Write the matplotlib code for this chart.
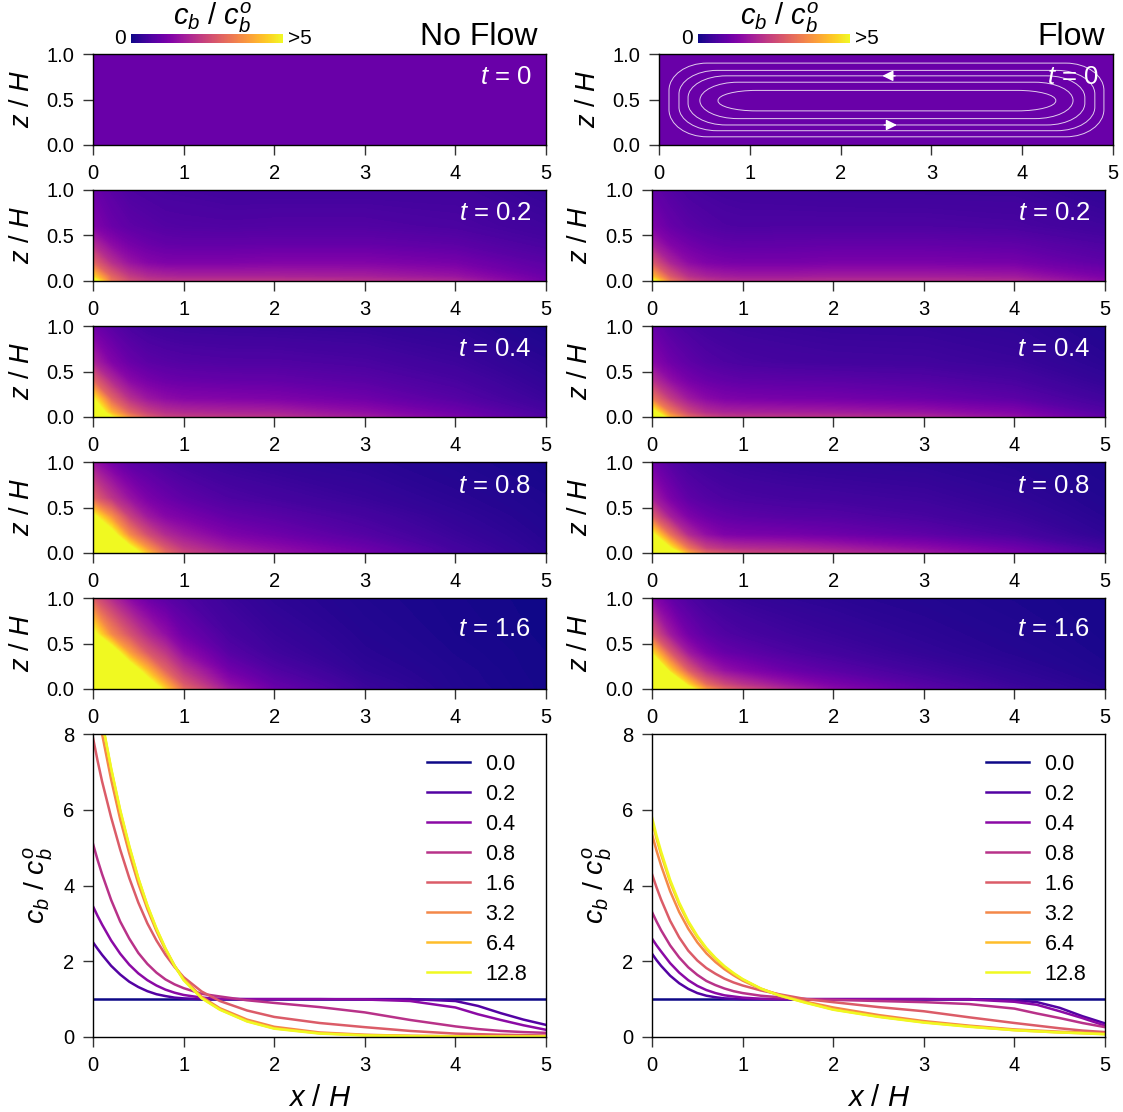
import numpy as np
import matplotlib
matplotlib.use("Agg")
import matplotlib.pyplot as plt
from matplotlib.path import Path
from matplotlib.patches import PathPatch

plt.rcParams['font.family'] = ['Liberation Sans', 'DejaVu Sans']
plt.rcParams['mathtext.fontset'] = 'custom'
plt.rcParams['mathtext.it'] = 'Liberation Sans:italic'
plt.rcParams['mathtext.rm'] = 'Liberation Sans'

W, H = 1123, 1112

# heatmap grid
x_grid = [0, 0.2, 0.4, 0.6, 0.8, 1, 1.5, 2, 3, 4, 5]
z_grid = [0, 0.05, 0.2, 0.4, 0.6, 1]
panel_times = ['0', '0.2', '0.4', '0.8', '1.6']

c_start = [[1] * 11] * 6

nf_02 = [[5.6, 3.3, 2.6, 2.3, 2.2, 2.2, 2.2, 2.2, 2.1, 1.9, 1.1],
         [4.6, 3.0, 2.3, 2.0, 1.9, 1.85, 1.85, 1.85, 1.8, 1.6, 1.0],
         [3.0, 2.1, 1.6, 1.35, 1.25, 1.25, 1.25, 1.3, 1.3, 1.15, 0.8],
         [2.0, 1.45, 1.15, 1.0, 0.92, 0.9, 0.9, 0.92, 0.92, 0.82, 0.6],
         [1.3, 1.0, 0.85, 0.78, 0.72, 0.7, 0.68, 0.7, 0.7, 0.62, 0.48],
         [1.0, 0.8, 0.65, 0.6, 0.56, 0.55, 0.5, 0.5, 0.5, 0.5, 0.35]]
nf_04 = [[7.5, 5.0, 3.6, 2.8, 2.4, 2.3, 2.2, 2.1, 1.7, 1.2, 0.65],
         [6.3, 4.2, 3.0, 2.4, 2.1, 2.0, 1.9, 1.85, 1.5, 1.05, 0.58],
         [5.0, 3.0, 2.1, 1.65, 1.45, 1.35, 1.3, 1.25, 1.05, 0.75, 0.42],
         [3.0, 2.0, 1.4, 1.15, 1.02, 0.97, 0.92, 0.9, 0.78, 0.58, 0.32],
         [1.9, 1.3, 0.98, 0.82, 0.76, 0.72, 0.68, 0.68, 0.6, 0.45, 0.24],
         [1.05, 0.78, 0.6, 0.5, 0.45, 0.42, 0.4, 0.38, 0.35, 0.28, 0.1]]
nf_08 = [[10, 8.0, 5.8, 4.3, 3.1, 2.5, 1.9, 1.6, 1.1, 0.55, 0.25],
         [9.0, 7.0, 5.3, 3.8, 2.8, 2.25, 1.7, 1.45, 1.0, 0.52, 0.24],
         [7.5, 5.5, 3.6, 2.6, 2.0, 1.7, 1.25, 1.05, 0.72, 0.42, 0.2],
         [5.2, 3.7, 2.4, 1.7, 1.35, 1.2, 0.9, 0.78, 0.55, 0.33, 0.16],
         [3.0, 2.2, 1.6, 1.2, 1.0, 0.85, 0.65, 0.55, 0.4, 0.25, 0.13],
         [1.6, 1.1, 0.8, 0.7, 0.58, 0.5, 0.38, 0.32, 0.25, 0.15, 0.08]]
nf_16 = [[14, 11, 9.0, 6.2, 4.5, 3.1, 1.7, 1.0, 0.42, 0.17, 0.06],
         [13, 10, 8.2, 5.6, 4.1, 2.8, 1.5, 0.9, 0.4, 0.16, 0.06],
         [11, 8.6, 5.9, 4.3, 3.0, 2.2, 1.1, 0.68, 0.3, 0.15, 0.05],
         [8.0, 5.8, 3.9, 2.8, 2.2, 1.5, 0.75, 0.48, 0.24, 0.12, 0.05],
         [5.3, 3.6, 2.7, 2.0, 1.5, 1.05, 0.58, 0.4, 0.2, 0.1, 0.04],
         [2.8, 2.0, 1.4, 1.0, 0.8, 0.65, 0.42, 0.28, 0.15, 0.08, 0.03]]

fl_02 = [[5.4, 3.3, 2.5, 2.2, 2.05, 2.0, 2.0, 2.05, 2.05, 2.0, 1.4],
         [4.3, 2.8, 2.1, 1.85, 1.75, 1.7, 1.7, 1.75, 1.75, 1.7, 1.2],
         [2.8, 1.9, 1.45, 1.25, 1.18, 1.15, 1.15, 1.2, 1.2, 1.15, 0.85],
         [1.8, 1.3, 1.08, 0.95, 0.88, 0.86, 0.88, 0.9, 0.9, 0.85, 0.65],
         [1.25, 0.95, 0.8, 0.72, 0.66, 0.64, 0.65, 0.65, 0.65, 0.6, 0.48],
         [0.9, 0.72, 0.6, 0.55, 0.52, 0.5, 0.48, 0.46, 0.45, 0.45, 0.3]]
fl_04 = [[6.8, 4.1, 3.0, 2.5, 2.25, 2.2, 2.15, 2.1, 1.9, 1.5, 0.85],
         [5.5, 3.4, 2.5, 2.05, 1.88, 1.85, 1.8, 1.75, 1.6, 1.3, 0.72],
         [3.3, 2.3, 1.7, 1.4, 1.25, 1.2, 1.15, 1.12, 1.0, 0.82, 0.5],
         [2.1, 1.5, 1.15, 0.98, 0.9, 0.85, 0.82, 0.8, 0.72, 0.58, 0.34],
         [1.4, 1.05, 0.85, 0.72, 0.65, 0.6, 0.55, 0.52, 0.5, 0.42, 0.25],
         [0.95, 0.7, 0.58, 0.5, 0.46, 0.43, 0.4, 0.37, 0.36, 0.3, 0.15]]
fl_08 = [[9.0, 6.0, 4.0, 3.0, 2.7, 2.5, 2.3, 2.1, 1.7, 1.2, 0.6],
         [7.5, 5.0, 3.3, 2.4, 2.15, 2.05, 1.95, 1.8, 1.45, 1.05, 0.52],
         [5.2, 3.2, 2.0, 1.5, 1.25, 1.2, 1.15, 1.05, 0.85, 0.6, 0.3],
         [2.9, 1.8, 1.25, 1.0, 0.88, 0.82, 0.75, 0.72, 0.58, 0.42, 0.22],
         [1.8, 1.2, 0.85, 0.72, 0.64, 0.6, 0.55, 0.52, 0.45, 0.32, 0.17],
         [1.05, 0.72, 0.55, 0.47, 0.42, 0.38, 0.33, 0.3, 0.27, 0.2, 0.12]]
fl_16 = [[12, 8.5, 5.4, 3.8, 3.0, 2.6, 1.9, 1.4, 0.8, 0.45, 0.22],
         [10, 7.0, 4.6, 3.1, 2.5, 2.15, 1.6, 1.2, 0.72, 0.4, 0.2],
         [7.5, 4.6, 2.9, 2.0, 1.55, 1.35, 1.0, 0.8, 0.5, 0.3, 0.14],
         [4.7, 2.8, 1.7, 1.2, 0.95, 0.85, 0.65, 0.52, 0.34, 0.21, 0.11],
         [2.8, 1.7, 1.1, 0.82, 0.68, 0.6, 0.48, 0.4, 0.27, 0.17, 0.09],
         [1.4, 0.9, 0.65, 0.5, 0.42, 0.37, 0.3, 0.25, 0.18, 0.12, 0.07]]

# streamlines of the flow panel, one entry per loop
loop_left = [0.11, 0.22, 0.32, 0.45, 0.65]
loop_right = [4.90, 4.80, 4.69, 4.56, 4.37]
loop_top = [0.90, 0.82, 0.76, 0.69, 0.60]
loop_bottom = [0.09, 0.157, 0.22, 0.29, 0.375]
loop_round_x = [0.42, 0.42, 0.42, 0.42, 0.42]
loop_round_z = [0.30, 0.26, 0.24, 0.20, 0.11]

# bottom profiles
x_line = [0, 0.05, 0.1, 0.2, 0.3, 0.4, 0.5, 0.6, 0.7, 0.8, 0.9, 1, 1.2, 1.4, 1.7, 2,
          2.5, 3, 3.5, 4, 4.25, 4.5, 4.75, 5]
line_labels = ['0.0', '0.2', '0.4', '0.8', '1.6', '3.2', '6.4', '12.8']

nf_lines = [
    [1] * 24,
    [2.5, 2.33, 2.17, 1.88, 1.65, 1.46, 1.32, 1.21, 1.13, 1.08, 1.04, 1.02, 1.0, 1.0, 1.0, 1.0,
     1.0, 1.0, 1.0, 0.95, 0.82, 0.63, 0.46, 0.32],
    [3.45, 3.2, 2.97, 2.55, 2.2, 1.91, 1.68, 1.5, 1.36, 1.25, 1.17, 1.11, 1.04, 1.01, 1.0, 1.0,
     1.0, 0.99, 0.95, 0.78, 0.6, 0.45, 0.31, 0.19],
    [5.1, 4.68, 4.3, 3.62, 3.05, 2.6, 2.22, 1.93, 1.7, 1.52, 1.39, 1.29, 1.14, 1.07, 0.97, 0.9,
     0.79, 0.65, 0.45, 0.28, 0.21, 0.16, 0.13, 0.11],
    [7.9, 7.3, 6.75, 5.8, 4.95, 4.2, 3.55, 3.0, 2.55, 2.17, 1.85, 1.58, 1.2, 0.95, 0.7, 0.53,
     0.37, 0.26, 0.16, 0.09, 0.075, 0.06, 0.05, 0.04],
    [9.3, 8.65, 8.0, 6.8, 5.75, 4.85, 4.05, 3.38, 2.8, 2.3, 1.88, 1.54, 1.06, 0.76, 0.46, 0.27,
     0.12, 0.06, 0.03, 0.02, 0.02, 0.01, 0.01, 0.01],
    [9.65, 8.97, 8.32, 7.07, 5.97, 5.02, 4.18, 3.46, 2.85, 2.33, 1.88, 1.52, 1.03, 0.73, 0.42, 0.23,
     0.1, 0.05, 0.03, 0.02, 0.01, 0.01, 0.01, 0.01],
    [9.7, 9.0, 8.35, 7.1, 6.0, 5.05, 4.2, 3.48, 2.87, 2.34, 1.88, 1.5, 1.02, 0.72, 0.41, 0.22,
     0.09, 0.04, 0.02, 0.01, 0.01, 0.01, 0.01, 0.01],
]
fl_lines = [
    [1] * 24,
    [2.2, 2.03, 1.88, 1.62, 1.42, 1.27, 1.16, 1.09, 1.05, 1.02, 1.01, 1.0, 1.0, 1.0, 1.0, 1.0,
     1.0, 1.0, 1.0, 0.97, 0.92, 0.77, 0.55, 0.36],
    [2.6, 2.42, 2.26, 1.95, 1.7, 1.5, 1.35, 1.24, 1.16, 1.1, 1.07, 1.04, 1.01, 1.0, 1.0, 1.0,
     1.0, 1.0, 0.99, 0.93, 0.85, 0.68, 0.5, 0.3],
    [3.3, 3.05, 2.82, 2.42, 2.1, 1.84, 1.64, 1.48, 1.37, 1.28, 1.21, 1.16, 1.09, 1.05, 1.0, 0.98,
     0.95, 0.92, 0.87, 0.75, 0.62, 0.5, 0.37, 0.26],
    [4.3, 3.95, 3.63, 3.07, 2.63, 2.28, 2.02, 1.82, 1.67, 1.54, 1.44, 1.36, 1.23, 1.13, 1.0, 0.92,
     0.79, 0.68, 0.52, 0.37, 0.3, 0.23, 0.17, 0.13],
    [5.35, 4.92, 4.53, 3.85, 3.3, 2.86, 2.5, 2.21, 1.98, 1.79, 1.63, 1.49, 1.27, 1.12, 0.93, 0.78,
     0.58, 0.42, 0.3, 0.2, 0.17, 0.14, 0.12, 0.09],
    [5.7, 5.23, 4.82, 4.09, 3.5, 3.02, 2.64, 2.32, 2.07, 1.85, 1.67, 1.52, 1.28, 1.1, 0.91, 0.73,
     0.54, 0.39, 0.28, 0.18, 0.15, 0.12, 0.1, 0.08],
    [5.8, 5.32, 4.9, 4.15, 3.55, 3.06, 2.67, 2.35, 2.09, 1.87, 1.69, 1.53, 1.28, 1.1, 0.9, 0.72,
     0.53, 0.38, 0.27, 0.18, 0.15, 0.12, 0.1, 0.07],
]


def ax_px(fig, left, top, right, bottom):
    return fig.add_axes([left / W, 1 - bottom / H, (right - left) / W, (bottom - top) / H])


def rounded_loop(l, r, t, b, rx, rz):
    k = 0.45
    verts = [(l + rx, b), (r - rx, b),
             (r - rx * k, b), (r, b + rz * k), (r, b + rz), (r, t - rz),
             (r, t - rz * k), (r - rx * k, t), (r - rx, t), (l + rx, t),
             (l + rx * k, t), (l, t - rz * k), (l, t - rz), (l, b + rz),
             (l, b + rz * k), (l + rx * k, b), (l + rx, b)]
    codes = [Path.MOVETO, Path.LINETO,
             Path.CURVE4, Path.CURVE4, Path.CURVE4, Path.LINETO,
             Path.CURVE4, Path.CURVE4, Path.CURVE4, Path.LINETO,
             Path.CURVE4, Path.CURVE4, Path.CURVE4, Path.LINETO,
             Path.CURVE4, Path.CURVE4, Path.CURVE4]
    return Path(verts, codes)


def style_ax(ax):
    ax.tick_params(length=7, width=1, labelsize=14.5, pad=6.5, color='#333333')
    for s in ax.spines.values():
        s.set_linewidth(1)
    ax.set_xlim(0, 5)
    ax.set_xticks([0, 1, 2, 3, 4, 5])


def heat_panel(fig, box, c, label, ylab_x, t_z):
    ax = ax_px(fig, *box)
    # contourf so the values are blended before the colour map is applied
    ax.contourf(x_grid, z_grid, np.array(c, dtype=float), levels=np.linspace(0, 5, 200),
                cmap='plasma', vmin=0, vmax=5, extend='max')
    style_ax(ax)
    ax.set_ylim(0, 1)
    ax.set_yticks([0, 0.5, 1])
    ax.set_yticklabels(['0.0', '0.5', '1.0'])
    ax.text(4.84, t_z - 0.02, '$t$ = ' + label, color='white', fontsize=18.5, ha='right', va='center')
    fig.text(ylab_x / W, 1 - (box[1] + box[3]) / 2 / H, '$z$ / $H$', fontsize=19.5,
             rotation=90, ha='center', va='center')
    return ax


def line_panel(fig, box, lines, ylab_x):
    ax = ax_px(fig, *box)
    colors = plt.cm.plasma(np.linspace(0, 1, len(lines)))
    for y, col, lab in zip(lines, colors, line_labels):
        ax.plot(x_line, y, color=col, lw=1.8, label=lab)
    style_ax(ax)
    ax.set_ylim(0, 8)
    ax.set_yticks([0, 2, 4, 6, 8])
    ax.legend(frameon=False, fontsize=15.5, loc='upper right', bbox_to_anchor=(0.987, 0.978),
              labelspacing=0.42, handlelength=2.0, handletextpad=0.7, borderaxespad=0.2)
    fig.text(ylab_x / W, 1 - (box[1] + box[3]) / 2 / H, r'$c_b$ / $c_b^o$', fontsize=20.5,
             rotation=90, ha='center', va='center')
    fig.text((box[0] + box[2]) / 2 / W, 1 - 1098 / H, '$x$ / $H$', fontsize=21,
             ha='center', va='center')
    return ax


def color_bar(fig, left, right):
    cax = ax_px(fig, left, 34, right, 43)
    sm = plt.cm.ScalarMappable(norm=plt.Normalize(0, 5), cmap='plasma')
    cb = fig.colorbar(sm, cax=cax, orientation='horizontal')
    cb.set_ticks([])
    cb.outline.set_visible(False)
    fig.text((left - 11) / W, 1 - 39 / H, '0', fontsize=15, ha='center', va='center')
    fig.text((right + 5) / W, 1 - 39 / H, '>5', fontsize=15, ha='left', va='center')
    fig.text(((left + right) / 2 + 6) / W, 1 - 18 / H, r'$c_b$ / $c_b^o$', fontsize=21,
             ha='center', va='center')


fig = plt.figure(figsize=(W / 100, H / 100), dpi=100)

rows = [(54, 145), (190, 281), (326, 417), (462, 553), (598, 689)]
t_height = [0.77, 0.77, 0.77, 0.76, 0.68]
nf_panels = [c_start, nf_02, nf_04, nf_08, nf_16]
fl_panels = [c_start, fl_02, fl_04, fl_08, fl_16]

for i in range(5):
    heat_panel(fig, (93, rows[i][0], 546, rows[i][1]), nf_panels[i], panel_times[i], 22, t_height[i])
    if i == 0:
        ax0 = heat_panel(fig, (659, rows[i][0], 1113, rows[i][1]), fl_panels[i], panel_times[i], 588, t_height[i])
    else:
        heat_panel(fig, (652, rows[i][0], 1105, rows[i][1]), fl_panels[i], panel_times[i], 580, t_height[i])

# streamlines
for j in range(5):
    p = rounded_loop(loop_left[j], loop_right[j], loop_top[j], loop_bottom[j], loop_round_x[j], loop_round_z[j])
    ax0.add_patch(PathPatch(p, fill=False, edgecolor='white', lw=0.7, alpha=0.8))
ax0.annotate('', xy=(2.46, loop_top[2]), xytext=(2.6, loop_top[2]),
             arrowprops=dict(arrowstyle='-|>', color='white', mutation_scale=16, lw=1, shrinkA=0, shrinkB=0))
ax0.annotate('', xy=(2.62, loop_bottom[2]), xytext=(2.48, loop_bottom[2]),
             arrowprops=dict(arrowstyle='-|>', color='white', mutation_scale=16, lw=1, shrinkA=0, shrinkB=0))

line_panel(fig, (93, 734, 546, 1037), nf_lines, 38)
line_panel(fig, (652, 734, 1105, 1037), fl_lines, 597)

color_bar(fig, 131, 283)
color_bar(fig, 698, 850)

fig.text(538 / W, 1 - 37 / H, 'No Flow', fontsize=23, ha='right', va='center')
fig.text(1105 / W, 1 - 37 / H, 'Flow', fontsize=23, ha='right', va='center')

fig.savefig('out.png', dpi=100)
